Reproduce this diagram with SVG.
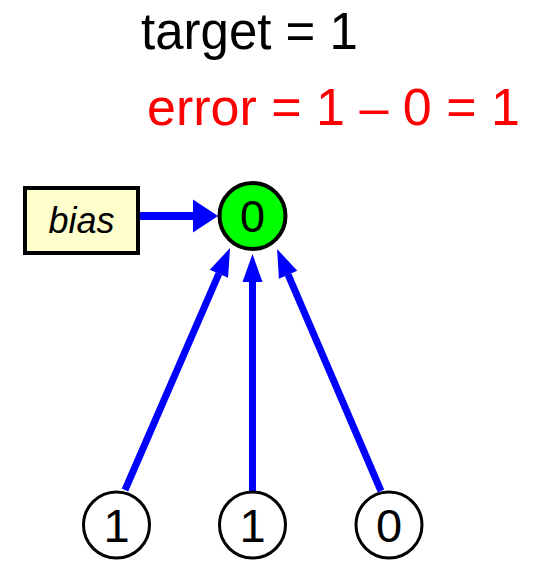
<svg xmlns="http://www.w3.org/2000/svg" width="537" height="561" viewBox="0 0 537 561">
  <style>
    .lbl { font-family: "Liberation Sans", Arial, sans-serif; fill: #000; }
    .node { stroke: #000; }
    .wire { stroke: #0000ff; fill: none; }
  </style>
  <defs>
    <marker id="head" markerUnits="userSpaceOnUse" markerWidth="28" markerHeight="20" refX="0" refY="10" orient="auto" overflow="visible">
      <path d="M0,0 L28,10 L0,20 Z" fill="#0000ff"/>
    </marker>
    <marker id="headWide" markerUnits="userSpaceOnUse" markerWidth="25" markerHeight="33" refX="0" refY="16.5" orient="auto" overflow="visible">
      <path d="M0,0 L25,16.5 L0,33 Z" fill="#0000ff"/>
    </marker>
  </defs>

  <rect width="537" height="561" fill="#ffffff"/>

  <!-- captions -->
  <text class="lbl" x="141" y="49" font-size="51">target = 1</text>
  <text class="lbl" x="147" y="125" font-size="52" style="fill:#ff0000">error = 1 – 0 = 1</text>

  <!-- connectors -->
  <g id="connectors">
    <line class="wire" x1="139" y1="216" x2="193" y2="216" stroke-width="8" marker-end="url(#headWide)"/>
    <line class="wire" x1="125" y1="490" x2="218.9" y2="273.7" stroke-width="7" marker-end="url(#head)"/>
    <line class="wire" x1="252.5" y1="491" x2="252.5" y2="282" stroke-width="7" marker-end="url(#head)"/>
    <line class="wire" x1="381" y1="491" x2="288.1" y2="274.7" stroke-width="7" marker-end="url(#head)"/>
  </g>

  <!-- bias input -->
  <g id="bias">
    <rect class="node" x="25" y="188" width="113" height="65" fill="#ffffcc" stroke-width="4"/>
    <text class="lbl" x="81.5" y="233" font-size="36" font-style="italic" text-anchor="middle">bias</text>
  </g>

  <!-- output unit -->
  <g id="output">
    <circle class="node" cx="252.5" cy="216" r="33" fill="#00ff00" stroke-width="4"/>
    <text class="lbl" x="252.5" y="232" font-size="45" text-anchor="middle">0</text>
  </g>

  <!-- input units -->
  <g id="in1">
    <circle class="node" cx="116.5" cy="525" r="33" fill="#ffffff" stroke-width="3"/>
    <text class="lbl" x="116.5" y="542" font-size="47" text-anchor="middle">1</text>
  </g>
  <g id="in2">
    <circle class="node" cx="252.5" cy="525" r="33" fill="#ffffff" stroke-width="3"/>
    <text class="lbl" x="252.5" y="542" font-size="47" text-anchor="middle">1</text>
  </g>
  <g id="in3">
    <circle class="node" cx="389" cy="525" r="33" fill="#ffffff" stroke-width="3"/>
    <text class="lbl" x="389" y="542" font-size="47" text-anchor="middle">0</text>
  </g>
</svg>
